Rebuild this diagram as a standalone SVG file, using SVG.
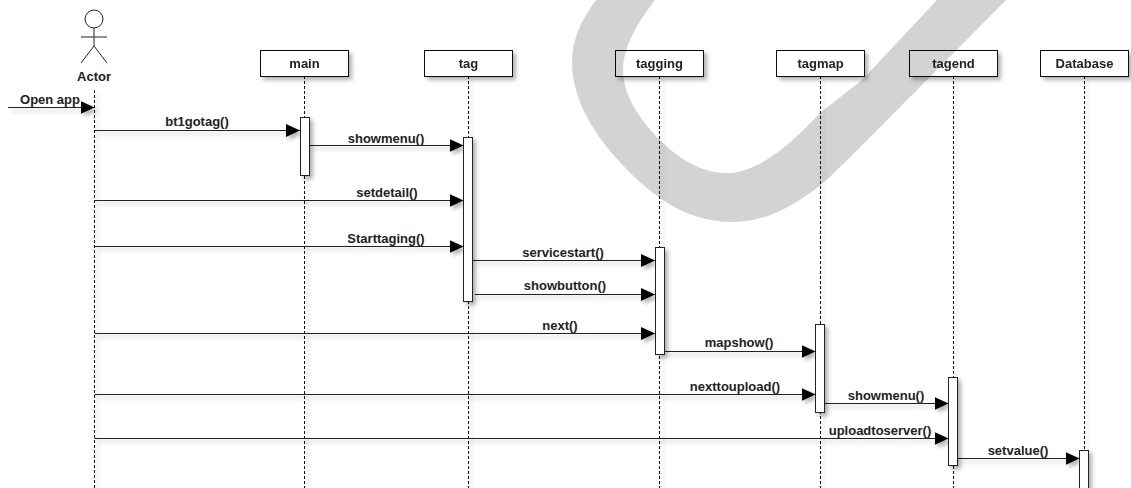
<svg xmlns="http://www.w3.org/2000/svg" width="1131" height="488" viewBox="0 0 1131 488">
<style>
text{font-family:"Liberation Sans",Arial,sans-serif;font-size:13px;font-weight:bold;fill:#222;text-anchor:middle}
.box{fill:#fff;stroke:#111;stroke-width:1}
.act{fill:#fff;stroke:#222;stroke-width:1}
.life{fill:none;stroke:#111;stroke-width:1;stroke-dasharray:3 2}
.msg{fill:none;stroke:#222;stroke-width:1;marker-end:url(#arrow)}
.stick{fill:#fff;stroke:#222;stroke-width:1}
</style>
<defs>
<filter id="shadow" filterUnits="userSpaceOnUse" x="0" y="0" width="1131" height="488">
<feDropShadow dx="3" dy="3" stdDeviation="2" flood-color="#000" flood-opacity="0.3"/>
</filter>
<marker id="arrow" markerUnits="userSpaceOnUse" markerWidth="14" markerHeight="14" refX="14" refY="7" orient="auto">
<path d="M0,0.500L14,7L0,13.500Z" fill="#000"/>
</marker>
</defs>
<rect width="1131" height="488" fill="#fff"/>
<g id="lifelines" filter="url(#shadow)">
<path class="life" d="M94.5,90V488M304.5,76V488M468.5,76V488M659.5,76V488M820.5,76V488M953.5,76V488M1084.5,76V488"/>
</g>
<g id="connectors" filter="url(#shadow)">
<line class="msg" x1="8" y1="107.500" x2="94.500" y2="107.500"/>
<line class="msg" x1="94.500" y1="130.500" x2="300" y2="130.500"/>
<line class="msg" x1="309" y1="145.500" x2="463.500" y2="145.500"/>
<line class="msg" x1="94.500" y1="200.500" x2="463.500" y2="200.500"/>
<line class="msg" x1="94.500" y1="246.500" x2="463.500" y2="246.500"/>
<line class="msg" x1="472.500" y1="260.500" x2="655" y2="260.500"/>
<line class="msg" x1="475" y1="294.500" x2="655" y2="294.500"/>
<line class="msg" x1="94.500" y1="333.500" x2="655" y2="333.500"/>
<line class="msg" x1="664" y1="351.500" x2="815.500" y2="351.500"/>
<line class="msg" x1="94.500" y1="394.500" x2="815.500" y2="394.500"/>
<line class="msg" x1="824.500" y1="403.500" x2="948.500" y2="403.500"/>
<line class="msg" x1="94.500" y1="438.500" x2="948.500" y2="438.500"/>
<line class="msg" x1="957.500" y1="458.500" x2="1079.500" y2="458.500"/>
</g>
<g id="labels">
<text x="50" y="104">Open app</text>
<text x="197" y="126">bt1gotag()</text>
<text x="386" y="143">showmenu()</text>
<text x="387" y="197">setdetail()</text>
<text x="386" y="243">Starttaging()</text>
<text x="563" y="257">servicestart()</text>
<text x="565" y="290">showbutton()</text>
<text x="560" y="330">next()</text>
<text x="739" y="347">mapshow()</text>
<text x="735" y="391">nexttoupload()</text>
<text x="886" y="400">showmenu()</text>
<text x="880" y="435">uploadtoserver()</text>
<text x="1018" y="455">setvalue()</text>
</g>
<g id="actor">
<circle class="stick" cx="94" cy="19" r="9"/>
<path class="stick" d="M94,28V46M81,37H107M81,63L94,46L107,63" style="fill:none"/>
<text x="94" y="81">Actor</text>
</g>
<g id="main" filter="url(#shadow)">
<rect class="box" x="260.500" y="50.500" width="88" height="26"/>
<text x="304.500" y="68">main</text>
<rect class="act" x="300.500" y="117.500" width="9" height="58"/>
</g>
<g id="tag" filter="url(#shadow)">
<rect class="box" x="424.500" y="50.500" width="88" height="26"/>
<text x="468.500" y="68">tag</text>
<rect class="act" x="463.500" y="137.500" width="9" height="164"/>
</g>
<g id="tagging" filter="url(#shadow)">
<rect class="box" x="615.500" y="50.500" width="88" height="26"/>
<text x="659.500" y="68">tagging</text>
<rect class="act" x="655.500" y="247.500" width="9" height="107"/>
</g>
<g id="tagmap" filter="url(#shadow)">
<rect class="box" x="776.500" y="50.500" width="88" height="26"/>
<text x="820.500" y="68">tagmap</text>
<rect class="act" x="815.500" y="324.500" width="9" height="88"/>
</g>
<g id="tagend" filter="url(#shadow)">
<rect class="box" x="909.500" y="50.500" width="88" height="26"/>
<text x="953.500" y="68">tagend</text>
<rect class="act" x="948.500" y="377.500" width="9" height="88"/>
</g>
<g id="database" filter="url(#shadow)">
<rect class="box" x="1040.500" y="50.500" width="88" height="26"/>
<text x="1084.500" y="68">Database</text>
<rect class="act" x="1079.500" y="450.500" width="9" height="44"/>
</g>
<path id="watermark" fill="#000" fill-opacity="0.173" d="M596,0C581,20 572,40 572,62C572,92 586,120 606,146C622,166 640,184 660,198C682,214 708,222 733,222C765,222 797,206 830,177C850,158 930,77 1006,0L937,0L862,80L820,113C790,145 758,173 727,173C702,173 680,160 660,140C640,120 623,95 623,70C623,47 638,22 655,0Z"/>
</svg>
